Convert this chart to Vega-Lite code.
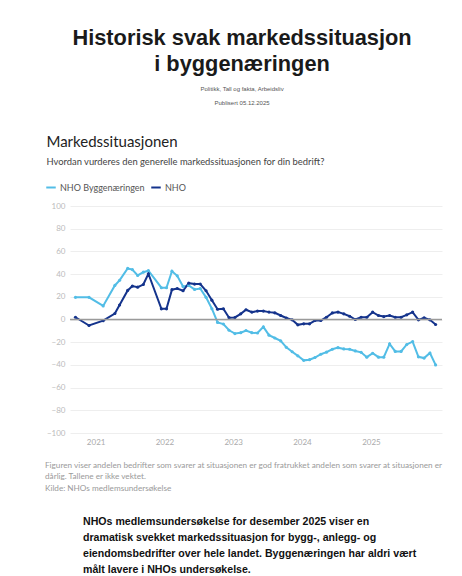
{
  "$schema": "https://vega.github.io/schema/vega-lite/v6.json",
  "background": "white",
  "padding": {"left": 45, "top": 27, "right": 5, "bottom": 0},
  "title": {
    "text": ["Historisk svak markedssituasjon", "i byggenæringen"],
    "subtitle": ["Politikk, Tall og fakta, Arbeidsliv", "Publisert 05.12.2025"],
    "anchor": "middle",
    "frame": "bounds",
    "dx": -2,
    "font": "Liberation Sans",
    "fontSize": 21.8,
    "fontWeight": "bold",
    "color": "#1a1a1a",
    "lineHeight": 26,
    "subtitleFont": "Liberation Sans",
    "subtitleFontSize": 6,
    "subtitleColor": "#555555",
    "subtitleLineHeight": 14,
    "subtitlePadding": 10,
    "offset": 29.5
  },
  "spacing": 14,
  "vconcat": [
    {
      "width": 372,
      "height": 227,
      "title": {
        "text": "Markedssituasjonen",
        "subtitle": "Hvordan vurderes den generelle markedssituasjonen for din bedrift?",
        "anchor": "start",
        "frame": "bounds",
        "font": "Lato",
        "fontSize": 15,
        "fontWeight": "normal",
        "color": "#222222",
        "subtitleFont": "Lato",
        "subtitleFontSize": 9.4,
        "subtitleColor": "#444444",
        "subtitlePadding": 8,
        "offset": 35.5
      },
      "data": {
        "values": [
          {"date": "2020-09-16", "NHO Byggenæringen": 19.5, "NHO": 2},
          {"date": "2020-11-27", "NHO Byggenæringen": 19.5, "NHO": -5.3},
          {"date": "2021-02-10", "NHO Byggenæringen": 12, "NHO": -1},
          {"date": "2021-04-13", "NHO Byggenæringen": 30, "NHO": 5.3},
          {"date": "2021-05-08", "NHO Byggenæringen": 34.5, "NHO": 12.8},
          {"date": "2021-06-20", "NHO Byggenæringen": 45, "NHO": 25.6},
          {"date": "2021-07-15", "NHO Byggenæringen": 44, "NHO": 29.4},
          {"date": "2021-08-12", "NHO Byggenæringen": 38.8, "NHO": 28.5},
          {"date": "2021-09-11", "NHO Byggenæringen": 41.7, "NHO": 30.8},
          {"date": "2021-10-08", "NHO Byggenæringen": 43, "NHO": 40.3},
          {"date": "2021-12-16", "NHO Byggenæringen": 28, "NHO": 9.4},
          {"date": "2022-01-12", "NHO Byggenæringen": 28, "NHO": 9.4},
          {"date": "2022-02-10", "NHO Byggenæringen": 42.6, "NHO": 26.3},
          {"date": "2022-03-10", "NHO Byggenæringen": 38.5, "NHO": 27.3},
          {"date": "2022-04-10", "NHO Byggenæringen": 29, "NHO": 25.3},
          {"date": "2022-05-10", "NHO Byggenæringen": 30, "NHO": 32},
          {"date": "2022-06-10", "NHO Byggenæringen": 26.5, "NHO": 31.2},
          {"date": "2022-07-10", "NHO Byggenæringen": 27.3, "NHO": 31.3},
          {"date": "2022-08-10", "NHO Byggenæringen": 19.5, "NHO": 25.3},
          {"date": "2022-09-10", "NHO Byggenæringen": 9.5, "NHO": 17},
          {"date": "2022-10-10", "NHO Byggenæringen": -2.6, "NHO": 9},
          {"date": "2022-11-10", "NHO Byggenæringen": -4, "NHO": 9.4},
          {"date": "2022-12-10", "NHO Byggenæringen": -9.5, "NHO": 1.6},
          {"date": "2023-01-10", "NHO Byggenæringen": -12.4, "NHO": 1.8},
          {"date": "2023-02-10", "NHO Byggenæringen": -11.6, "NHO": 5},
          {"date": "2023-03-10", "NHO Byggenæringen": -9.7, "NHO": 8.6},
          {"date": "2023-04-10", "NHO Byggenæringen": -11.6, "NHO": 6.5},
          {"date": "2023-05-10", "NHO Byggenæringen": -11.9, "NHO": 7.4},
          {"date": "2023-06-10", "NHO Byggenæringen": -6.5, "NHO": 7.4},
          {"date": "2023-07-10", "NHO Byggenæringen": -13.8, "NHO": 6.5},
          {"date": "2023-08-10", "NHO Byggenæringen": -16.3, "NHO": 5.9},
          {"date": "2023-09-10", "NHO Byggenæringen": -18.8, "NHO": 3.5},
          {"date": "2023-10-10", "NHO Byggenæringen": -24.5, "NHO": 1.3},
          {"date": "2023-11-10", "NHO Byggenæringen": -28.4, "NHO": -0.3},
          {"date": "2023-12-10", "NHO Byggenæringen": -32, "NHO": -4.7},
          {"date": "2024-01-10", "NHO Byggenæringen": -36, "NHO": -3.8},
          {"date": "2024-02-10", "NHO Byggenæringen": -35.4, "NHO": -3.8},
          {"date": "2024-03-10", "NHO Byggenæringen": -33.5, "NHO": -0.9},
          {"date": "2024-04-10", "NHO Byggenæringen": -30.6, "NHO": -0.9},
          {"date": "2024-05-10", "NHO Byggenæringen": -28.8, "NHO": 2},
          {"date": "2024-06-10", "NHO Byggenæringen": -26.2, "NHO": 5.8},
          {"date": "2024-07-10", "NHO Byggenæringen": -24.8, "NHO": 6.5},
          {"date": "2024-08-10", "NHO Byggenæringen": -25.9, "NHO": 5},
          {"date": "2024-09-10", "NHO Byggenæringen": -26.2, "NHO": 2.9},
          {"date": "2024-10-10", "NHO Byggenæringen": -27.7, "NHO": 0},
          {"date": "2024-11-10", "NHO Byggenæringen": -28.9, "NHO": 2},
          {"date": "2024-12-10", "NHO Byggenæringen": -33.2, "NHO": 2},
          {"date": "2025-01-10", "NHO Byggenæringen": -29.7, "NHO": 6.5},
          {"date": "2025-02-10", "NHO Byggenæringen": -33.2, "NHO": 3.5},
          {"date": "2025-03-10", "NHO Byggenæringen": -33.2, "NHO": 2.6},
          {"date": "2025-04-10", "NHO Byggenæringen": -21.5, "NHO": 3.5},
          {"date": "2025-05-10", "NHO Byggenæringen": -28.1, "NHO": 2},
          {"date": "2025-06-10", "NHO Byggenæringen": -28.1, "NHO": 2},
          {"date": "2025-07-10", "NHO Byggenæringen": -22, "NHO": 4.1},
          {"date": "2025-08-10", "NHO Byggenæringen": -19.4, "NHO": 6.5},
          {"date": "2025-09-10", "NHO Byggenæringen": -32.9, "NHO": -0.3},
          {"date": "2025-10-10", "NHO Byggenæringen": -34, "NHO": 1.5},
          {"date": "2025-11-10", "NHO Byggenæringen": -29.5, "NHO": -0.3},
          {"date": "2025-12-10", "NHO Byggenæringen": -40, "NHO": -4.4}
        ]
      },
      "transform": [
        {"fold": ["NHO Byggenæringen", "NHO"], "as": ["serie", "verdi"]}
      ],
      "layer": [
        {
          "mark": {
            "type": "line",
            "strokeWidth": 2,
            "point": {"filled": true, "size": 10}
          },
          "encoding": {
            "x": {
              "field": "date",
              "type": "temporal",
              "scale": {"domain": ["2020-08-18", "2026-01-13"]},
              "axis": {
                "title": null,
                "format": "%Y",
                "values": [
                  {"year": 2021, "month": 1, "date": 1},
                  {"year": 2022, "month": 1, "date": 1},
                  {"year": 2023, "month": 1, "date": 1},
                  {"year": 2024, "month": 1, "date": 1},
                  {"year": 2025, "month": 1, "date": 1}
                ],
                "tickCount": 20,
                "grid": false,
                "ticks": false,
                "domain": false,
                "labelColor": "#aaaaaa",
                "labelFont": "Lato",
                "labelFontSize": 8,
                "labelPadding": 5
              }
            },
            "y": {
              "field": "verdi",
              "type": "quantitative",
              "scale": {"domain": [-100, 100], "nice": false},
              "axis": {
                "title": null,
                "values": [-100, -80, -60, -40, -20, 0, 20, 40, 60, 80, 100],
                "tickCount": 20,
                "labelOverlap": false,
                "grid": true,
                "gridColor": "#eeeeee",
                "ticks": false,
                "domain": false,
                "labelColor": "#bbbbbb",
                "labelFont": "Lato",
                "labelFontSize": 8,
                "labelPadding": 5
              }
            },
            "color": {
              "field": "serie",
              "type": "nominal",
              "scale": {
                "domain": ["NHO Byggenæringen", "NHO"],
                "range": ["#52bde6", "#14338c"]
              },
              "legend": {
                "orient": "none",
                "legendX": -25,
                "legendY": -24.5,
                "direction": "horizontal",
                "title": null,
                "symbolType": "stroke",
                "symbolStrokeWidth": 2,
                "symbolSize": 90,
                "labelFont": "Lato",
                "labelFontSize": 9,
                "labelColor": "#555555",
                "labelOffset": 3,
                "columnPadding": 2
              }
            }
          }
        },
        {
          "data": {"values": [{"nullpunkt": 0}]},
          "mark": {"type": "rule", "color": "#9a9a9a", "strokeWidth": 1.5},
          "encoding": {
            "y": {"field": "nullpunkt", "type": "quantitative"}
          }
        }
      ]
    },
    {
      "width": 372,
      "height": 9.5,
      "data": {"values": []},
      "mark": "text",
      "title": {
        "text": [
          "Figuren viser andelen bedrifter som svarer at situasjonen er god fratrukket andelen som svarer at situasjonen er",
          "dårlig. Tallene er ikke vektet.",
          "Kilde: NHOs medlemsundersøkelse"
        ],
        "anchor": "start",
        "frame": "bounds",
        "dx": -25,
        "font": "Lato",
        "fontSize": 8.2,
        "fontWeight": "normal",
        "color": "#9a9a9a",
        "lineHeight": 11.5,
        "offset": 0
      }
    },
    {
      "width": 372,
      "height": 1,
      "data": {"values": []},
      "mark": "text",
      "title": {
        "text": [
          "NHOs medlemsundersøkelse for desember 2025 viser en",
          "dramatisk svekket markedssituasjon for bygg-, anlegg- og",
          "eiendomsbedrifter over hele landet. Byggenæringen har aldri vært",
          "målt lavere i NHOs undersøkelse."
        ],
        "anchor": "start",
        "frame": "bounds",
        "dx": 13,
        "font": "Liberation Sans",
        "fontSize": 10.6,
        "fontWeight": "bold",
        "color": "#111111",
        "lineHeight": 16,
        "offset": 0
      }
    }
  ],
  "config": {"view": {"stroke": null}, "axis": {"labelOverlap": false}}
}
